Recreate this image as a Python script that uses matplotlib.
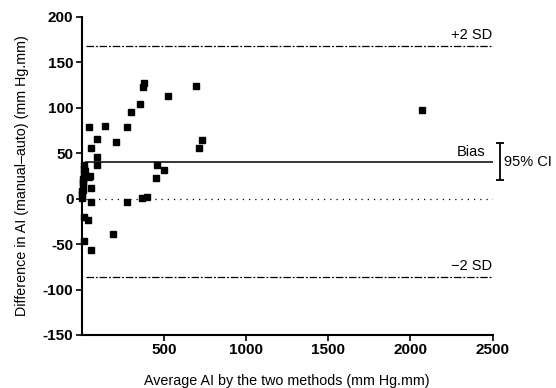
import numpy as np
import matplotlib
matplotlib.use("Agg")
import matplotlib.pyplot as plt

plt.rcParams['font.family'] = ['Liberation Sans', 'DejaVu Sans']

# average of the two methods vs difference (manual - auto)
avg = [2, 4, 6, 8, 10, 12, 15, 14, 5, 3, 20, 16, 16, 40, 44, 50, 44, 55, 57, 57, 58,
       91, 93, 95, 140, 192, 207, 277, 277, 300, 357, 365, 373, 381, 397,
       450, 460, 499, 523, 695, 713, 730, 2072]
diff = [1, 5, 10, 16, 22, 28, 33, 37, 18, 8, 30, -20, -47, -24, 24, 25, 79, 56, 12, -4, -56,
        46, 66, 37, 80, -39, 62, 79, -4, 95, 104, 1, 123, 127, 2,
        23, 37, 31, 113, 124, 56, 65, 98]

bias = 40
upper_sd = 168
lower_sd = -86
ci_low, ci_high = 21, 61

fig = plt.figure(figsize=(5.56, 3.88), dpi=100)
ax = fig.add_axes([0.147, 0.1366, 0.739, 0.82])

ax.plot(avg, diff, 's', color='black', ms=4, clip_on=False, zorder=3)

x0, x1 = 25, 2500
ax.plot([x0, x1], [bias, bias], '-', color='black', lw=1.1)
ax.plot([x0, x1], [upper_sd, upper_sd], color='black', lw=0.9, ls=(0, (6, 1.5, 1.5, 1.5)))
ax.plot([x0, x1], [lower_sd, lower_sd], color='black', lw=0.9, ls=(0, (6, 1.5, 1.5, 1.5)))
ax.plot([x0, x1], [0, 0], color='black', lw=0.9, ls=(0, (1, 4)))

ax.text(2495, upper_sd + 4, '+2 SD', ha='right', va='bottom', fontsize=10.5)
ax.text(2453, bias + 4, 'Bias', ha='right', va='bottom', fontsize=10.5)
ax.text(2495, lower_sd + 4, '\u22122 SD', ha='right', va='bottom', fontsize=10.5)

# 95% confidence interval of the bias
ax.errorbar([2545], [(ci_low + ci_high) / 2], yerr=[[(ci_high - ci_low) / 2]],
            fmt='none', ecolor='black', elinewidth=1.3, capsize=3, capthick=1.3,
            clip_on=False)
ax.text(2570, bias, '95% CI', ha='left', va='center', fontsize=10.5)

ax.set_xlim(0, 2500)
ax.set_ylim(-150, 200)
ax.set_xticks([500, 1000, 1500, 2000, 2500])
ax.set_yticks(np.arange(-150, 201, 50))
ax.set_yticklabels([str(v) for v in range(-150, 201, 50)])

for s in ['top', 'right']:
    ax.spines[s].set_visible(False)
for s in ['left', 'bottom']:
    ax.spines[s].set_linewidth(1.5)

ax.tick_params(axis='both', direction='out', length=4, width=1.2, labelsize=11, pad=2)
for lab in ax.get_xticklabels() + ax.get_yticklabels():
    lab.set_fontweight('bold')

ax.set_xlabel('Average AI by the two methods (mm Hg.mm)', fontsize=10.3, labelpad=12)
ax.set_ylabel('Difference in AI (manual\u2013auto) (mm Hg.mm)', fontsize=10.3, labelpad=10)

fig.savefig('out.png', dpi=100)
